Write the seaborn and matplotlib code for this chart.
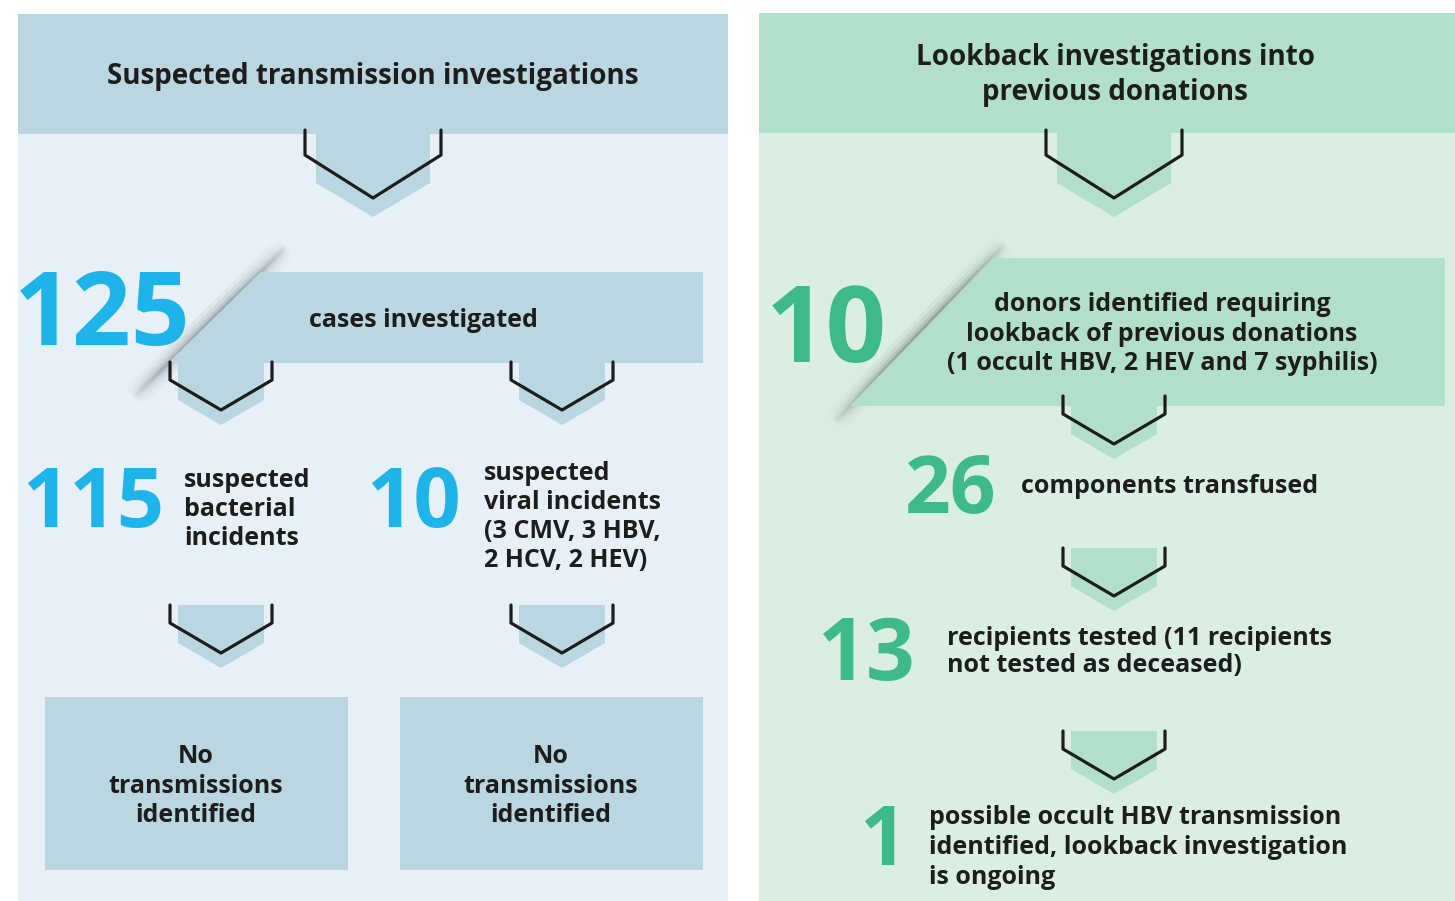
import numpy as np
import matplotlib.pyplot as plt
import seaborn as sns
from matplotlib.patches import Polygon, Rectangle
from matplotlib.collections import LineCollection

# ---- content -------------------------------------------------------------
LEFT_TITLE = ["Suspected transmission investigations"]
RIGHT_TITLE = ["Lookback investigations into", "previous donations"]

LEFT_COUNTS = ["125", "115", "10"]
LEFT_LABELS = [
    ["cases investigated"],
    ["suspected", "bacterial", "incidents"],
    ["suspected", "viral incidents", "(3 CMV, 3 HBV,", "2 HCV, 2 HEV)"],
]
OUTCOME = ["No", "transmissions", "identified"]

RIGHT_COUNTS = ["10", "26", "13", "1"]
RIGHT_LABELS = [
    ["donors identified requiring", "lookback of previous donations",
     "(1 occult HBV, 2 HEV and 7 syphilis)"],
    ["components transfused"],
    ["recipients tested (11 recipients", "not tested as deceased)"],
    ["possible occult HBV transmission", "identified, lookback investigation",
     "is ongoing"],
]

# ---- style ---------------------------------------------------------------
BLUE_BG, BLUE_BAND, BLUE_NUM = "#e7f0f7", "#b9d6e1", "#1eb4e9"
GREEN_BG, GREEN_BAND, GREEN_NUM = "#daeee3", "#b2dfc9", "#3dba87"
INK = "#1d1d1b"
BODY = 18
HEAD = 20

sns.set_theme(style="white")
plt.rcParams["font.family"] = ["Open Sans", "DejaVu Sans"]

fig = plt.figure(figsize=(14.55, 9.01), dpi=100)
ax = fig.add_axes([0, 0, 1, 1])


def pt(px):
    return px * 72 / 100


def chevron(cx, y0, fill, big=False):
    if big:
        half, side, tip, sh, ss, st = 68, 25, 68, 57, 53, 87
    else:
        half, side, tip, sh, ss, st = 51, 18, 48, 43, 38, 63
    ax.add_patch(Polygon([(cx - sh, y0), (cx + sh, y0), (cx + sh, y0 + ss),
                          (cx, y0 + st), (cx - sh, y0 + ss)],
                         closed=True, fc=fill, ec="none", zorder=2))
    sns.lineplot(x=[cx - half, cx - half, cx, cx + half, cx + half],
                 y=[y0, y0 + side, y0 + tip, y0 + side, y0],
                 sort=False, estimator=None, color=INK, lw=2.3, ax=ax, zorder=3)


def fold_shadow(p0, p1):
    # soft grey crease along the cut corner of a band
    t = np.linspace(0, 1, 81)
    pts = np.column_stack([p0[0] + (p1[0] - p0[0]) * t, p0[1] + (p1[1] - p0[1]) * t])
    segs = np.stack([pts[:-1], pts[1:]], axis=1)
    tm = (t[:-1] + t[1:]) / 2
    fade = np.sin(np.pi * tm) ** 0.5
    for w, a in [(18, 0.04), (12, 0.06), (7, 0.09), (3, 0.16)]:
        cols = np.zeros((len(tm), 4))
        cols[:, 3] = a * fade
        ax.add_collection(LineCollection(segs, colors=cols, linewidths=w,
                                         capstyle="butt", zorder=1))


def band(x_tl, y_t, x_bl, y_b, x_r, fill):
    ax.add_patch(Polygon([(x_tl, y_t), (x_r, y_t), (x_r, y_b), (x_bl, y_b)],
                         closed=True, fc=fill, ec="none", zorder=2))


def lines(x, baselines, texts, ha="left", size=BODY):
    for yb, s in zip(baselines, texts):
        ax.text(x, yb, s, ha=ha, va="baseline", fontsize=size,
                fontweight="bold", color=INK, zorder=4)


def number(x, baseline, s, cap_px, color, ha="right"):
    ax.text(x, baseline, s, ha=ha, va="baseline",
            fontsize=pt(cap_px / 0.714) * 0.97, fontweight="bold",
            color=color, zorder=4)


# ---- left panel ----------------------------------------------------------
ax.add_patch(Rectangle((18, 14), 710, 887, fc=BLUE_BG, ec="none", zorder=0))
ax.add_patch(Rectangle((18, 14), 710, 120, fc=BLUE_BAND, ec="none", zorder=2))
lines(373, [84], LEFT_TITLE, ha="center", size=HEAD)
chevron(373, 130, BLUE_BAND, big=True)

fold_shadow((286, 247), (134, 397))
band(260.5, 272, 167.6, 363, 703, BLUE_BAND)
number(102, 345, LEFT_COUNTS[0], 76, BLUE_NUM, ha="center")
lines(423, [327], LEFT_LABELS[0], ha="center")

for cx in (221, 562):
    chevron(cx, 362, BLUE_BAND)
    chevron(cx, 605, BLUE_BAND)

number(164, 527, LEFT_COUNTS[1], 61, BLUE_NUM)
lines(184, [487, 516, 545], LEFT_LABELS[1])
number(461, 527, LEFT_COUNTS[2], 61, BLUE_NUM)
lines(484, [480, 509, 538, 567], LEFT_LABELS[2])

for x0, cx in ((45, 196), (400, 551)):
    ax.add_patch(Rectangle((x0, 697), 303, 173, fc=BLUE_BAND, ec="none", zorder=2))
    lines(cx, [763, 793, 822], OUTCOME, ha="center")

# ---- right panel ---------------------------------------------------------
ax.add_patch(Rectangle((759, 13), 696, 888, fc=GREEN_BG, ec="none", zorder=0))
ax.add_patch(Rectangle((759, 13), 696, 120, fc=GREEN_BAND, ec="none", zorder=2))
lines(1115, [65, 100], RIGHT_TITLE, ha="center", size=HEAD)
chevron(1114, 130, GREEN_BAND, big=True)

fold_shadow((1005, 244), (835, 422))
band(993, 258, 850, 406, 1445, GREEN_BAND)
number(826, 362, RIGHT_COUNTS[0], 78, GREEN_NUM, ha="center")
lines(1162, [311, 341, 370], RIGHT_LABELS[0], ha="center")

chevron(1114, 396, GREEN_BAND)
number(996, 513, RIGHT_COUNTS[1], 59, GREEN_NUM)
lines(1021, [493], RIGHT_LABELS[1])

chevron(1114, 548, GREEN_BAND)
number(916, 680, RIGHT_COUNTS[2], 63, GREEN_NUM)
lines(947, [645, 672], RIGHT_LABELS[2])

chevron(1114, 731, GREEN_BAND)
number(906, 865, RIGHT_COUNTS[3], 61, GREEN_NUM)
lines(929, [824, 854, 884], RIGHT_LABELS[3])

ax.set_xlim(0, 1455)
ax.set_ylim(901, 0)
ax.axis("off")
fig.savefig("out.png", dpi=100, facecolor="white")
